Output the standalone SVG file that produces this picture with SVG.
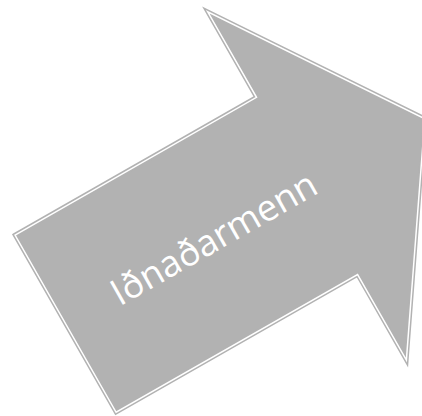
<svg xmlns="http://www.w3.org/2000/svg" width="422" height="416" viewBox="0 0 422 416">
<style>
.outer{fill:#b2b2b2;stroke:#b2b2b2;stroke-width:4.5;stroke-linejoin:miter;stroke-miterlimit:20}
.inner{fill:none;stroke:#ffffff;stroke-width:1.5;stroke-linejoin:miter;stroke-miterlimit:20}
.lbl{fill:#ffffff;font-family:"Open Sans","Noto Sans","DejaVu Sans",sans-serif;font-size:36.5px;text-anchor:middle}
</style>
<rect width="422" height="416" fill="#ffffff"/>
<g id="arrow" transform="translate(12.3,234.3) rotate(-29.7)">
<polygon class="outer" points="2,2 280,2 280,-96.5 415.6,104 280,304.5 280,206 2,206"/>
<polygon class="inner" points="2,2 280,2 280,-96.5 415.6,104 280,304.5 280,206 2,206"/>
<text class="lbl" x="173" y="116">Iðnaðarmenn</text>
</g>
<g id="connectors"/>
</svg>
